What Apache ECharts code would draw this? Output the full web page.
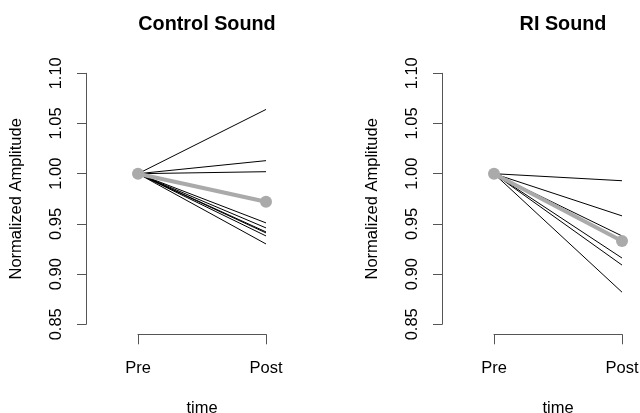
<!DOCTYPE html>
<html>
<head>
<meta charset="utf-8">
<script src="https://cdn.jsdelivr.net/npm/echarts@6/dist/echarts.min.js"></script>
<style>html,body{margin:0;padding:0;background:#fff;}#c{width:640px;height:413px;}</style>
</head>
<body>
<div id="c"></div>
<script>
var categories = ['Pre', 'Post'];
var yTicks = [0.85, 0.90, 0.95, 1.00, 1.05, 1.10];
var preValue = 1.0;
var controlPost = [1.064, 1.013, 1.002, 0.951, 0.946, 0.942, 0.941, 0.938, 0.930];
var controlMeanPost = 0.972;
var riPost = [0.993, 0.958, 0.938, 0.932, 0.916, 0.909, 0.882];
var riMeanPost = 0.933;
var titles = ['Control Sound', 'RI Sound'];

var FONT = 'Liberation Sans, Arial, Helvetica, sans-serif';
var chart = echarts.init(document.getElementById('c'), null, {renderer: 'canvas'});

var gridLefts = [138, 494];
var grids = [], xAxes = [], yAxes = [], series = [], titleArr = [];

function panel(i, posts, meanPost) {
  grids.push({left: gridLefts[i], width: 128, top: 73.3, height: 251,
    containLabel: false, outerBoundsMode: 'none'});
  xAxes.push({
    type: 'category', gridIndex: i, data: categories, boundaryGap: false,
    offset: 10,
    axisLine: {show: true, lineStyle: {color: '#555', width: 1}},
    axisTick: {show: true, length: 10, alignWithLabel: true, lineStyle: {color: '#555'}},
    axisLabel: {color: '#000', fontSize: 16.5, fontFamily: FONT, margin: 26, interval: 0},
    name: 'time', nameLocation: 'middle', nameGap: 66,
    nameTextStyle: {color: '#000', fontSize: 16.5, fontFamily: FONT},
    splitLine: {show: false}
  });
  yAxes.push({
    type: 'value', gridIndex: i, min: yTicks[0], max: yTicks[yTicks.length - 1], interval: 0.05,
    offset: 52,
    axisLine: {show: true, lineStyle: {color: '#555', width: 1}},
    axisTick: {show: true, length: 9, lineStyle: {color: '#555'}},
    axisLabel: {color: '#000', fontSize: 16.5, fontFamily: FONT, rotate: 90, margin: 21,
      formatter: function (v) { return v.toFixed(2); }},
    name: 'Normalized Amplitude', nameLocation: 'middle', nameGap: 61, nameRotate: 90,
    nameTextStyle: {color: '#000', fontSize: 16.5, fontFamily: FONT},
    splitLine: {show: false}
  });
  posts.forEach(function (p) {
    series.push({
      type: 'line', xAxisIndex: i, yAxisIndex: i, data: [preValue, p],
      symbol: 'none', lineStyle: {color: '#000', width: 1}, silent: true, animation: false, z: 2
    });
  });
  series.push({
    type: 'line', xAxisIndex: i, yAxisIndex: i, data: [preValue, meanPost],
    symbol: 'circle', symbolSize: 12, showSymbol: true,
    itemStyle: {color: '#aaaaaa'},
    lineStyle: {color: '#aaaaaa', width: 4}, silent: true, animation: false, z: 3
  });
  titleArr.push({
    text: titles[i], left: gridLefts[i] + 64, top: 10, textAlign: 'center',
    textStyle: {fontSize: 19.8, fontWeight: 'bold', color: '#000', fontFamily: FONT}
  });
}
panel(0, controlPost, controlMeanPost);
panel(1, riPost, riMeanPost);

chart.setOption({
  backgroundColor: '#fff',
  animation: false,
  title: titleArr,
  grid: grids, xAxis: xAxes, yAxis: yAxes, series: series
});
</script>
</body>
</html>
